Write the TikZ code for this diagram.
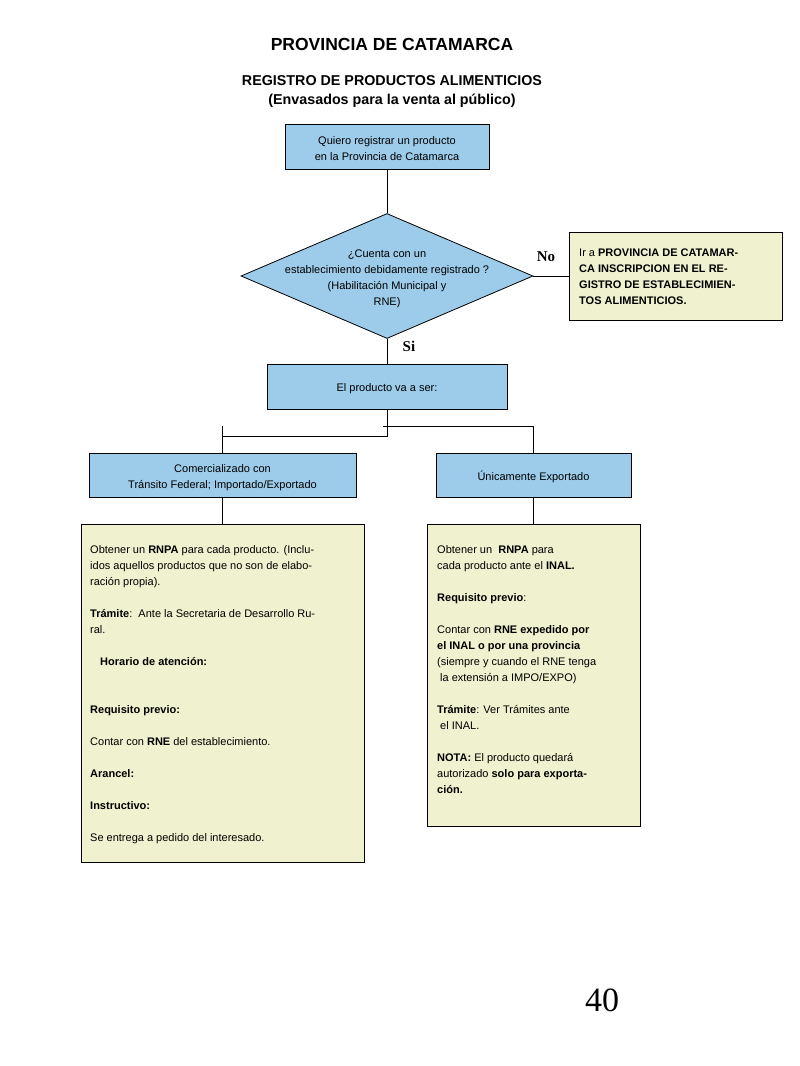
\documentclass[tikz,border=0pt]{standalone}
\usepackage{fontspec}
\setmainfont{Liberation Sans}
\newfontfamily\seriffont{Liberation Serif}
\usetikzlibrary{shapes.geometric}
\definecolor{boxblue}{RGB}{156,204,234}
\definecolor{boxyellow}{RGB}{240,241,206}
\begin{document}
\begin{tikzpicture}[x=1pt,y=-1pt,
  box/.style={draw=black, line width=0.8pt, inner sep=0pt},
  bluebox/.style={box, fill=boxblue},
  btext/.style={font=\fontsize{11}{16}\selectfont, align=center, inner sep=0pt},
  yellowbox/.style={box, fill=boxyellow},
  boxtext/.style={font=\fontsize{11}{16}\selectfont, align=left, inner sep=0pt, anchor=north west},
  conn/.style={draw=black, line width=0.8pt},
  yesno/.style={font=\seriffont\bfseries\fontsize{15}{18}\selectfont, inner sep=0pt}
]
\useasboundingbox (0,0) rectangle (800,1066);
\fill[white] (0,0) rectangle (800,1066);

% titles
\node[font=\bfseries\fontsize{17.5}{20}\selectfont, inner sep=0pt] (t1) at (392,44) {PROVINCIA DE CATAMARCA};
\node[font=\bfseries\fontsize{14.3}{19}\selectfont, inner sep=0pt, align=center] (t2) at (392,91.5) {REGISTRO DE PRODUCTOS ALIMENTICIOS\\(Envasados para la venta al público)};

% top box
\node[bluebox, minimum width=204pt, minimum height=45pt] (top) at (387,146.5) {};
\node[btext] (topt) at ([yshift=-2.5pt]top.center) {Quiero registrar un producto\\en la Provincia de Catamarca};

% diamond
\node[diamond, bluebox, minimum width=292pt, minimum height=125pt] (q) at (387,276) {};
\node[btext] (qt) at (387,279) {¿Cuenta con un\\establecimiento debidamente registrado ?\\(Habilitación Municipal y\\RNE)};

% right box (No)
\node[yellowbox, minimum width=213pt, minimum height=88pt] (ira) at (675.5,276) {};
\node[boxtext] (irat) at (579,248.5) {Ir a \textbf{PROVINCIA DE CATAMAR-}\\\textbf{CA INSCRIPCION EN EL RE-}\\\textbf{GISTRO DE ESTABLECIMIEN-}\\\textbf{TOS ALIMENTICIOS.}};

\node[yesno] (no) at (546,257) {No};
\node[yesno] (si) at (409,346) {Si};

% product box
\node[bluebox, minimum width=240pt, minimum height=45pt] (prod) at (387,386.5) {};
\node[btext] (prodt) at ([yshift=-2pt]prod.center) {El producto va a ser:};

% branch boxes
\node[bluebox, minimum width=267pt, minimum height=44pt] (com) at (222.5,475) {};
\node[btext] (comt) at ([yshift=-3pt]com.center) {Comercializado con\\Tránsito Federal; Importado/Exportado};
\node[bluebox, minimum width=195pt, minimum height=44pt] (exp) at (533.5,475) {};
\node[btext] (expt) at ([yshift=-2pt]exp.center) {Únicamente Exportado};

% info boxes
\node[yellowbox, minimum width=283pt, minimum height=338pt, anchor=north west] (infl) at (81,524) {};
\node[yellowbox, minimum width=213pt, minimum height=302pt, anchor=north west] (infr) at (427,524) {};

\node[boxtext] (inflt) at (90,545) {Obtener un \textbf{RNPA} para cada producto. (Inclu-\\
idos aquellos productos que no son de elabo-\\
ración propia).\\[16pt]
\textbf{Trámite}:\ \ Ante la Secretaria de Desarrollo Ru-\\
ral.\\[16pt]
\hspace*{10pt}\textbf{Horario de atención:}\\[32pt]
\textbf{Requisito previo:}\\[16pt]
Contar con \textbf{RNE} del establecimiento.\\[16pt]
\textbf{Arancel:}\\[16pt]
\textbf{Instructivo:}\\[16pt]
Se entrega a pedido del interesado.};

\node[boxtext] (infrt) at (437,545) {Obtener un\ \ \textbf{RNPA} para\\
cada producto ante el \textbf{INAL.}\\[16pt]
\textbf{Requisito previo}:\\[16pt]
Contar con \textbf{RNE expedido por}\\
\textbf{el INAL o por una provincia}\\
(siempre y cuando el RNE tenga\\
\hspace*{3pt}la extensión a IMPO/EXPO)\\[16pt]
\textbf{Trámite}: Ver Trámites ante\\
\hspace*{3pt}el INAL.\\[16pt]
\textbf{NOTA:} El producto quedará\\
autorizado \textbf{solo para exporta-}\\
\textbf{ción.}};

% connectors
\draw[conn] (top.south) -- (q.north);
\draw[conn] (q.east) -- (ira.west);
\draw[conn] (q.south) -- (prod.north);
\coordinate (j1) at (387,436);
\coordinate (j2) at (383,426);
\draw[conn] (prod.south) -- (prod.south |- j1) -- (com.north |- j1);
\draw[conn] (com.north) -- ++(0,-27);
\draw[conn] (j2) -- (j2 -| exp.north) -- (exp.north);
\draw[conn] (com.south) -- (com.south |- infl.north);
\draw[conn] (exp.south) -- (exp.south |- infr.north);

% page number
\node[font=\seriffont\fontsize{34}{40}\selectfont, inner sep=0pt] (pg) at (602,1000) {40};
\end{tikzpicture}
\end{document}
